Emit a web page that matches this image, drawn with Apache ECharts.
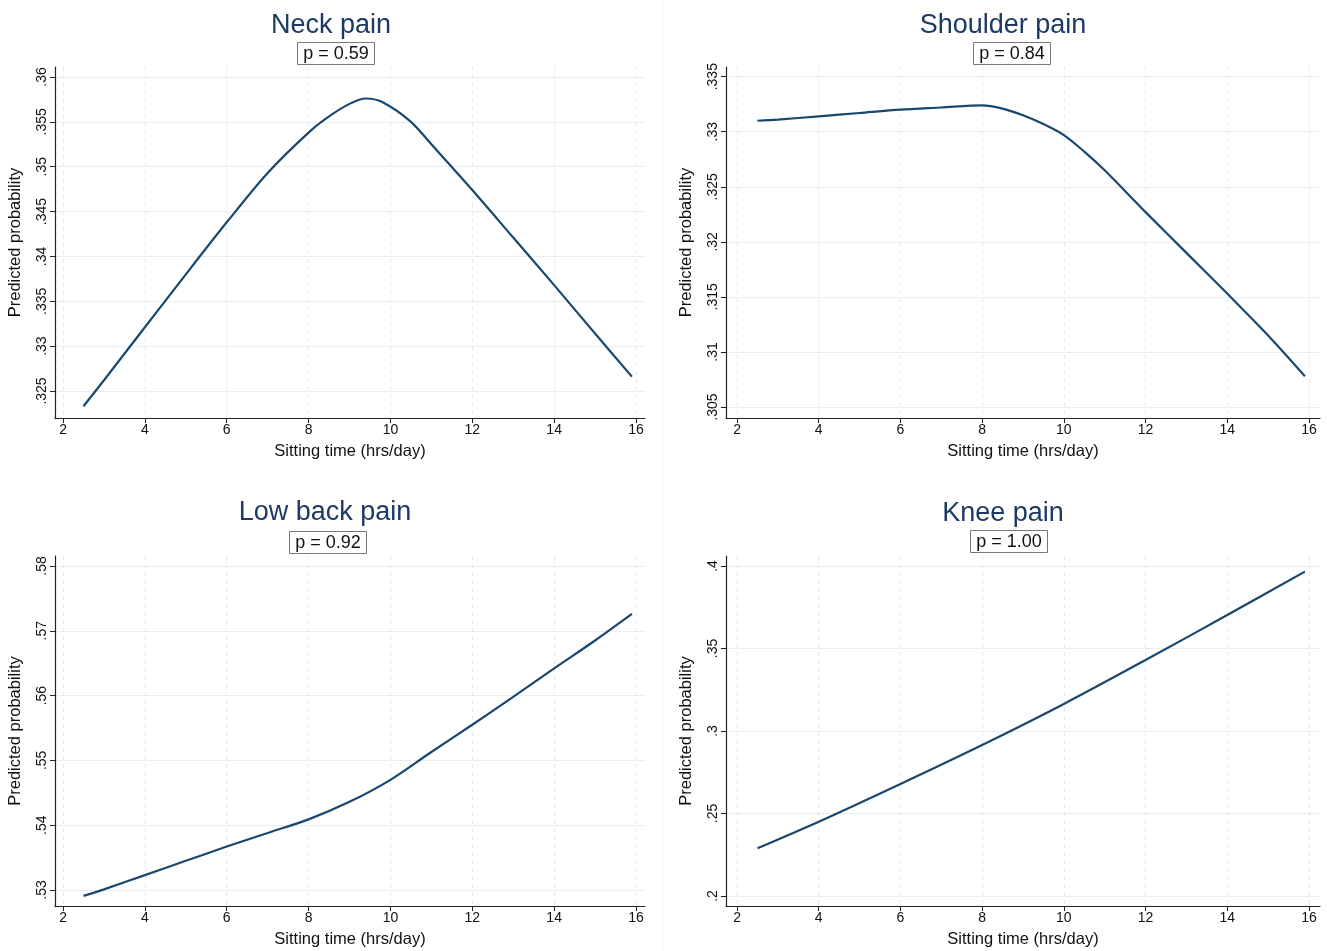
<!DOCTYPE html>
<html>
<head>
<meta charset="utf-8">
<script src="https://cdn.jsdelivr.net/npm/echarts@6/dist/echarts.min.js"></script>
<style>
  html, body { margin: 0; padding: 0; background: #fff; }
  #chart { width: 1327px; height: 951px; }
</style>
</head>
<body>
<div id="chart"></div>
<script>
// sitting time values (hrs/day) and predicted probabilities
const xNeck = [2.5, 3, 4, 5, 6, 7, 8, 8.5, 9, 9.4, 9.8, 10.5, 11, 12, 13, 14, 15, 15.9];
const neckPain = [0.3233, 0.3262, 0.3321, 0.3380, 0.3438, 0.3493, 0.3538, 0.3556, 0.3570, 0.3576, 0.3572, 0.3550, 0.3525, 0.3474, 0.3421, 0.3368, 0.3314, 0.3266];

const xShoulder = [2.5, 3, 4, 5, 6, 7, 8, 8.5, 9, 9.5, 10, 10.5, 11, 12, 13, 14, 15, 15.9];
const shoulderPain = [0.3310, 0.3311, 0.3314, 0.3317, 0.3320, 0.3322, 0.3324, 0.3321, 0.3315, 0.3307, 0.3297, 0.3282, 0.3265, 0.3227, 0.3190, 0.3153, 0.3115, 0.3078];

const xLowBack = [2.5, 3, 4, 5, 6, 7, 8, 9, 10, 11, 12, 13, 14, 15, 15.9];
const lowBackPain = [0.5291, 0.5301, 0.5323, 0.5345, 0.5367, 0.5388, 0.5409, 0.5436, 0.5470, 0.5513, 0.5555, 0.5598, 0.5642, 0.5685, 0.5726];

const xKnee = [2.5, 4, 6, 8, 10, 12, 14, 15.9];
const kneePain = [0.2289, 0.2450, 0.2679, 0.2915, 0.3164, 0.3430, 0.3703, 0.3966];

// tick labels
const xTicks = [2, 4, 6, 8, 10, 12, 14, 16];
const neckTicks = [0.325, 0.33, 0.335, 0.34, 0.345, 0.35, 0.355, 0.36];
const shoulderTicks = [0.305, 0.31, 0.315, 0.32, 0.325, 0.33, 0.335];
const lowBackTicks = [0.53, 0.54, 0.55, 0.56, 0.57, 0.58];
const kneeTicks = [0.2, 0.25, 0.3, 0.35, 0.4];

const panelTitles = ['Neck pain', 'Shoulder pain', 'Low back pain', 'Knee pain'];
const pValues = ['p = 0.59', 'p = 0.84', 'p = 0.92', 'p = 1.00'];

const navy = '#1a476f';
const titleNavy = '#1d3a64';
const font = 'Arial, "Liberation Sans", sans-serif';

function zip(xs, ys) {
  return xs.map((x, i) => [x, ys[i]]);
}

// one layout per panel
const panels = [
  { grid: { left: 55, top: 67, width: 590, height: 351 }, xr: [1.804, 16.22], yr: [0.32199, 0.36111], ticks: neckTicks, data: zip(xNeck, neckPain), tx: 331, ty: 12, px: 330, py: 42 },
  { grid: { left: 726, top: 67, width: 594, height: 351 }, xr: [1.73, 16.27], yr: [0.30400, 0.33588], ticks: shoulderTicks, data: zip(xShoulder, shoulderPain), tx: 1003, ty: 12, px: 1006, py: 42 },
  { grid: { left: 55, top: 556, width: 590, height: 350 }, xr: [1.804, 16.22], yr: [0.52753, 0.58154], ticks: lowBackTicks, data: zip(xLowBack, lowBackPain), tx: 325, ty: 499, px: 322, py: 531 },
  { grid: { left: 726, top: 556, width: 594, height: 350 }, xr: [1.73, 16.27], yr: [0.19394, 0.40606], ticks: kneeTicks, data: zip(xKnee, kneePain), tx: 1003, ty: 500, px: 1003, py: 530 }
];

const titles = [];
panels.forEach((p, i) => {
  titles.push({
    text: panelTitles[i],
    left: p.tx, top: p.ty, textAlign: 'center', padding: 0,
    textStyle: { color: titleNavy, fontSize: 27, fontWeight: 'normal', fontFamily: font }
  });
  titles.push({
    text: pValues[i],
    left: p.px, top: p.py, textAlign: 'center', padding: [3, 6, 2, 6],
    borderColor: '#777', borderWidth: 1,
    textStyle: { color: '#111', fontSize: 18, fontWeight: 'normal', fontFamily: font }
  });
});

const option = {
  backgroundColor: '#fff',
  animation: false,
  title: titles,
  grid: panels.map(p => Object.assign({ containLabel: false }, p.grid)),
  xAxis: panels.map((p, i) => ({
    type: 'value',
    gridIndex: i,
    min: p.xr[0],
    max: p.xr[1],
    name: 'Sitting time (hrs/day)',
    nameLocation: 'middle',
    nameGap: 25,
    nameTextStyle: { color: '#111', fontSize: 16.5, fontFamily: font },
    axisLine: { show: true, lineStyle: { color: '#222', width: 1.2 } },
    axisTick: { show: true, length: 5, customValues: xTicks, lineStyle: { color: '#222' } },
    axisLabel: { customValues: xTicks, color: '#111', fontSize: 14, margin: 5, fontFamily: font },
    splitLine: { show: true, lineStyle: { color: '#e3eaee', type: [4, 4], width: 1 } }
  })),
  yAxis: panels.map((p, i) => ({
    type: 'value',
    gridIndex: i,
    min: p.yr[0],
    max: p.yr[1],
    name: 'Predicted probability',
    nameLocation: 'middle',
    nameGap: 31,
    nameTextStyle: { color: '#111', fontSize: 16.5, fontFamily: font },
    axisLine: { show: true, lineStyle: { color: '#222', width: 1.2 } },
    axisTick: { show: true, length: 5, customValues: p.ticks, lineStyle: { color: '#222' } },
    axisLabel: {
      customValues: p.ticks,
      rotate: 90,
      color: '#111',
      fontSize: 14,
      margin: 6,
      fontFamily: font,
      formatter: v => String(v).replace(/^0/, '')
    },
    splitLine: { show: true, lineStyle: { color: '#e6eef1', width: 1.2 } }
  })),
  series: panels.map((p, i) => ({
    type: 'line',
    xAxisIndex: i,
    yAxisIndex: i,
    data: p.data,
    smooth: 0.3,
    showSymbol: false,
    lineStyle: { color: navy, width: 2.2 }
  })),
  graphic: [
    {
      type: 'line',
      shape: { x1: 663, y1: 0, x2: 663, y2: 951 },
      style: { stroke: '#edf1f3', lineWidth: 1 },
      silent: true
    }
  ]
};

const myChart = echarts.init(document.getElementById('chart'));
myChart.setOption(option);
window.addEventListener('resize', () => {
  myChart.resize();
});
</script>
</body>
</html>
